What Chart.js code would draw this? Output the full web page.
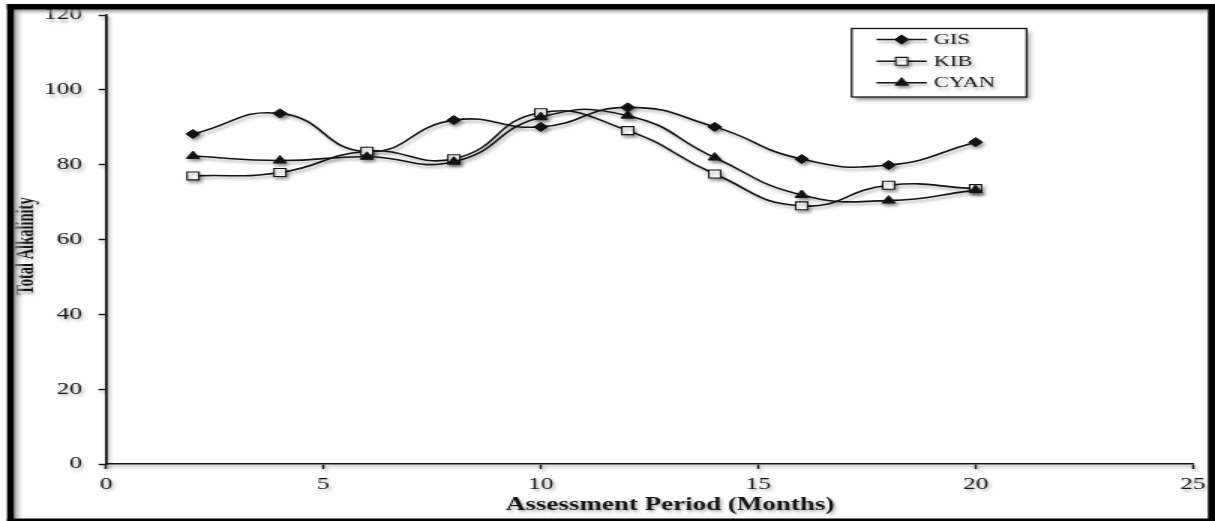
<!DOCTYPE html>
<html>
<head>
<meta charset="utf-8">
<title>Total Alkalinity</title>
<script src="https://cdn.jsdelivr.net/npm/chart.js@4/dist/chart.umd.min.js"></script>
<style>
  html, body { margin: 0; padding: 0; background: #fff; overflow: hidden; }
  /* the figure is laid out on a narrow canvas and widened 1.5x, like the exported picture */
  #stage { position: absolute; left: 0; top: 0; width: 810px; height: 521px;
           transform: scaleX(1.5); transform-origin: 0 0; }
</style>
</head>
<body>
<div id="stage"><canvas id="chart" width="810" height="521"></canvas></div>
<script>
// ---- data ----
const months     = [2, 4, 6, 8, 10, 12, 14, 16, 18, 20];
const gisValues  = [88.2, 93.7, 83.5, 91.9, 90.1, 95.3, 90.1, 81.5, 79.9, 86.0];
const kibValues  = [77.0, 77.9, 83.6, 81.6, 93.9, 89.1, 77.5, 69.0, 74.5, 73.6];
const cyanValues = [82.3, 81.1, 82.1, 80.8, 92.7, 93.1, 81.9, 71.9, 70.4, 73.2];
const seriesNames = ['GIS', 'KIB', 'CYAN'];
const xTickValues = [0, 5, 10, 15, 20, 25];
const yTickValues = [0, 20, 40, 60, 80, 100, 120];
const xTitle = 'Assessment Period (Months)';
const yTitle = 'Total Alkalinity';

// ---- styling ----
const INK = '#141414';
const SERIF = '"Liberation Serif", "Times New Roman", serif';
const SHADOW = 'rgba(0,0,0,0.33)';

const toPoints = vals => months.map((m, i) => ({ x: m, y: vals[i] }));

const markerStyles = [
  { pointStyle: 'rectRot',  radius: 4.6, fill: INK,    borderWidth: 1 },
  { pointStyle: 'rect',     radius: 5.6, fill: '#fff', borderWidth: 1.1 },
  { pointStyle: 'triangle', radius: 5.0, fill: INK,    borderWidth: 1 }
];

const seriesValues = [gisValues, kibValues, cyanValues];
const drawOrder = [2, 1, 0];   // CYAN on top, GIS underneath

const datasets = seriesNames.map((name, i) => ({
  label: name,
  data: toPoints(seriesValues[i]),
  order: drawOrder[i],
  borderColor: INK,
  borderWidth: 1.6,
  tension: 0.5,
  fill: false,
  pointStyle: markerStyles[i].pointStyle,
  pointRadius: markerStyles[i].radius,
  pointHoverRadius: markerStyles[i].radius,
  pointBackgroundColor: markerStyles[i].fill,
  pointBorderColor: INK,
  pointBorderWidth: markerStyles[i].borderWidth
}));

function setShadow(ctx) {
  ctx.shadowColor = SHADOW;
  ctx.shadowBlur = 3;
  ctx.shadowOffsetX = 1.4;
  ctx.shadowOffsetY = 2.5;
}

function drawMarker(ctx, style, x, y) {
  ctx.fillStyle = style.fill;
  ctx.strokeStyle = INK;
  ctx.lineWidth = style.borderWidth;
  if (Chart.helpers && Chart.helpers.drawPoint) {
    Chart.helpers.drawPoint(ctx, { pointStyle: style.pointStyle, radius: style.radius,
      rotation: 0, borderWidth: style.borderWidth }, x, y);
  }
}

// white page, and a soft drop shadow under everything the chart draws
const shadowPlugin = {
  id: 'softShadow',
  beforeDraw(chart) {
    const ctx = chart.ctx;
    ctx.save();
    ctx.fillStyle = '#fff';
    ctx.fillRect(0, 0, chart.width, chart.height);
    ctx.restore();
    ctx.save();
    setShadow(ctx);
  },
  afterDraw(chart) {
    chart.ctx.restore();
  }
};

// axis titles, legend box and the black picture frame
const decorPlugin = {
  id: 'decor',
  afterDraw(chart) {
    const ctx = chart.ctx;

    // axis titles
    ctx.save();
    setShadow(ctx);
    ctx.fillStyle = INK;
    ctx.textAlign = 'center';
    ctx.textBaseline = 'middle';
    ctx.font = 'bold 18px ' + SERIF;
    ctx.fillText(xTitle, 446.7, 505);
    ctx.translate(22, 246);
    ctx.rotate(-Math.PI / 2);
    ctx.scale(1, 1.12);
    ctx.textBaseline = 'alphabetic';
    ctx.font = 'bold 14.5px ' + SERIF;
    ctx.fillText(yTitle, 0, 0);
    ctx.restore();

    // legend
    const box = { x: 567.8, y: 28.5, w: 116.6, h: 68.5 };
    ctx.save();
    ctx.shadowColor = 'rgba(0,0,0,0.45)';
    ctx.shadowBlur = 4;
    ctx.shadowOffsetX = 2;
    ctx.shadowOffsetY = 3;
    ctx.fillStyle = '#fff';
    ctx.fillRect(box.x, box.y, box.w, box.h);
    ctx.restore();
    ctx.save();
    ctx.strokeStyle = INK;
    ctx.lineWidth = 1.3;
    ctx.strokeRect(box.x, box.y, box.w, box.h);
    const rows = [39.5, 61.3, 82.7];
    chart.data.datasets.forEach((ds, i) => {
      const y = rows[i];
      ctx.save();
      setShadow(ctx);
      ctx.strokeStyle = INK;
      ctx.lineWidth = 1.5;
      ctx.beginPath();
      ctx.moveTo(584.4, y);
      ctx.lineTo(617.8, y);
      ctx.stroke();
      drawMarker(ctx, markerStyles[i], 601.1, y);
      ctx.fillStyle = INK;
      ctx.font = '15px ' + SERIF;
      ctx.textAlign = 'left';
      ctx.textBaseline = 'middle';
      ctx.fillText(ds.label, 622.5, y + 0.5);
      ctx.restore();
    });
    ctx.restore();

    // frame
    ctx.save();
    const L = 4.7, T = 4, R = 805.3, W = chart.width, H = chart.height;
    const gl = ctx.createLinearGradient(9.3, 0, 16.5, 0);
    gl.addColorStop(0, 'rgba(120,120,120,0.85)');
    gl.addColorStop(1, 'rgba(255,255,255,0)');
    ctx.fillStyle = gl;
    ctx.fillRect(9.3, 9.5, 7.2, 509);
    const gt = ctx.createLinearGradient(0, 9.5, 0, 16);
    gt.addColorStop(0, 'rgba(120,120,120,0.85)');
    gt.addColorStop(1, 'rgba(255,255,255,0)');
    ctx.fillStyle = gt;
    ctx.fillRect(9.3, 9.5, R - 9.3, 6.5);
    ctx.fillStyle = '#000';
    ctx.fillRect(L, T, W - L, 5.5);          // top band
    ctx.fillRect(L, T, 9.3 - L, H - T);       // left band
    ctx.fillRect(R, T, W - R, H - T);         // right band
    ctx.fillRect(L, 518.5, W - L, H - 518.5); // bottom rule
    ctx.restore();
  }
};

const tickFont = { family: SERIF, size: 17 };

new Chart(document.getElementById('chart'), {
  type: 'line',
  data: { datasets },
  options: {
    responsive: false,
    animation: false,
    devicePixelRatio: 1,
    layout: { padding: { left: 0, right: 14.7, top: 15, bottom: 0 } },
    plugins: {
      legend: { display: false },
      tooltip: { enabled: false }
    },
    scales: {
      x: {
        type: 'linear',
        min: 0,
        max: 25,
        afterBuildTicks: s => { s.ticks = xTickValues.map(v => ({ value: v })); },
        afterFit: s => { s.height = 57; },
        grid: { drawOnChartArea: false, drawTicks: true, tickLength: 5, tickWidth: 1.4, tickColor: INK },
        border: { display: true, color: INK, width: 1.6 },
        ticks: { color: INK, font: tickFont, padding: 5, maxRotation: 0 }
      },
      y: {
        type: 'linear',
        min: 0,
        max: 120,
        afterBuildTicks: s => { s.ticks = yTickValues.map(v => ({ value: v })); },
        afterFit: s => { s.width = 70.7; s.paddingTop = 0; s.paddingBottom = 0; },
        grid: { drawOnChartArea: false, drawTicks: true, tickLength: 5, tickWidth: 1.4, tickColor: INK },
        border: { display: true, color: INK, width: 1.8 },
        ticks: { color: INK, font: tickFont, padding: 11 }
      }
    }
  },
  plugins: [shadowPlugin, decorPlugin]
});
</script>
</body>
</html>
